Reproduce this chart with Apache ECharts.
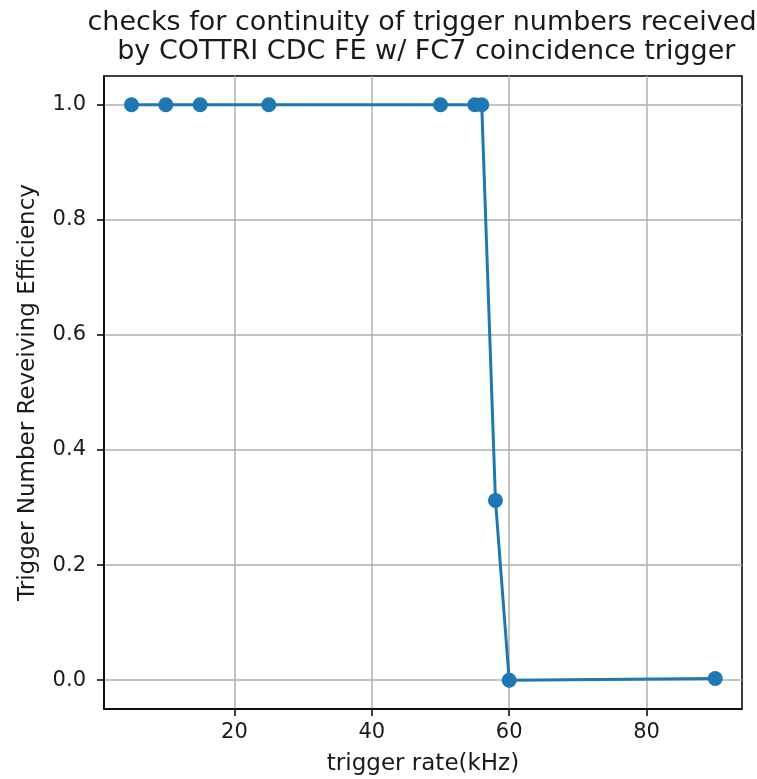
<!DOCTYPE html>
<html>
<head>
<meta charset="utf-8">
<script src="https://cdn.jsdelivr.net/npm/echarts@6/dist/echarts.min.js"></script>
<style>html,body{margin:0;padding:0;background:#fff}#c{width:757px;height:779px}</style>
</head>
<body>
<div id="c"></div>
<script>
const titleLines = ["checks for continuity of trigger numbers received", " by COTTRI CDC FE w/ FC7 coincidence trigger"];
const xName = "trigger rate(kHz)";
const yName = "Trigger Number Reveiving Efficiency";
const rates = [5, 10, 15, 25, 50, 55, 56, 58, 60, 90];
const efficiency = [1, 1, 1, 1, 1, 1, 1, 0.3125, 0, 0.003];
const xTicks = [20, 40, 60, 80];
const yTicks = [0, 0.2, 0.4, 0.6, 0.8, 1.0];

const font = "DejaVu Sans";
const chart = echarts.init(document.getElementById('c'));
chart.setOption({
  animation: false,
  backgroundColor: '#fff',
  graphic: [{
    type: 'text', x: 422, y: 8,
    style: { text: titleLines.join('\n'), textAlign: 'center', textVerticalAlign: 'top', font: '27px "DejaVu Sans"', fill: '#1a1a1a', lineHeight: 29 }
  }],
  grid: { left: 104, right: 15, top: 76, bottom: 70, show: true, borderColor: '#000', borderWidth: 1.5, containLabel: false, outerBoundsMode: 'none' },
  xAxis: {
    type: 'value', min: 1.0, max: 93.9,
    name: xName, nameLocation: 'middle', nameGap: 44,
    nameTextStyle: { fontFamily: font, fontSize: 23, color: '#1a1a1a' },
    axisLine: { show: true, onZero: false, lineStyle: { color: '#000', width: 1.5 } },
    axisTick: { show: true, length: 7, customValues: xTicks, lineStyle: { color: '#000', width: 1.5 } },
    axisLabel: { customValues: xTicks, margin: 13, fontFamily: font, fontSize: 21, color: '#1a1a1a' },
    splitLine: { show: true, lineStyle: { color: '#b0b0b0', width: 1.5 } }
  },
  yAxis: {
    type: 'value', min: -0.05, max: 1.05,
    name: yName, nameLocation: 'middle', nameGap: 64,
    nameTextStyle: { fontFamily: font, fontSize: 23, color: '#1a1a1a' },
    axisLine: { show: true, onZero: false, lineStyle: { color: '#000', width: 1.5 } },
    axisTick: { show: true, length: 7, customValues: yTicks, lineStyle: { color: '#000', width: 1.5 } },
    axisLabel: { customValues: yTicks, margin: 18, fontFamily: font, fontSize: 21, color: '#1a1a1a', formatter: v => v.toFixed(1) },
    splitLine: { show: true, lineStyle: { color: '#b0b0b0', width: 1.5 } }
  },
  series: [{
    type: 'line',
    data: rates.map((r, i) => [r, efficiency[i]]),
    symbol: 'circle', symbolSize: 15, showAllSymbol: true,
    lineStyle: { color: '#1f77b4', width: 3 },
    itemStyle: { color: '#1f77b4' },
    z: 3
  }]
});
</script>
</body>
</html>
